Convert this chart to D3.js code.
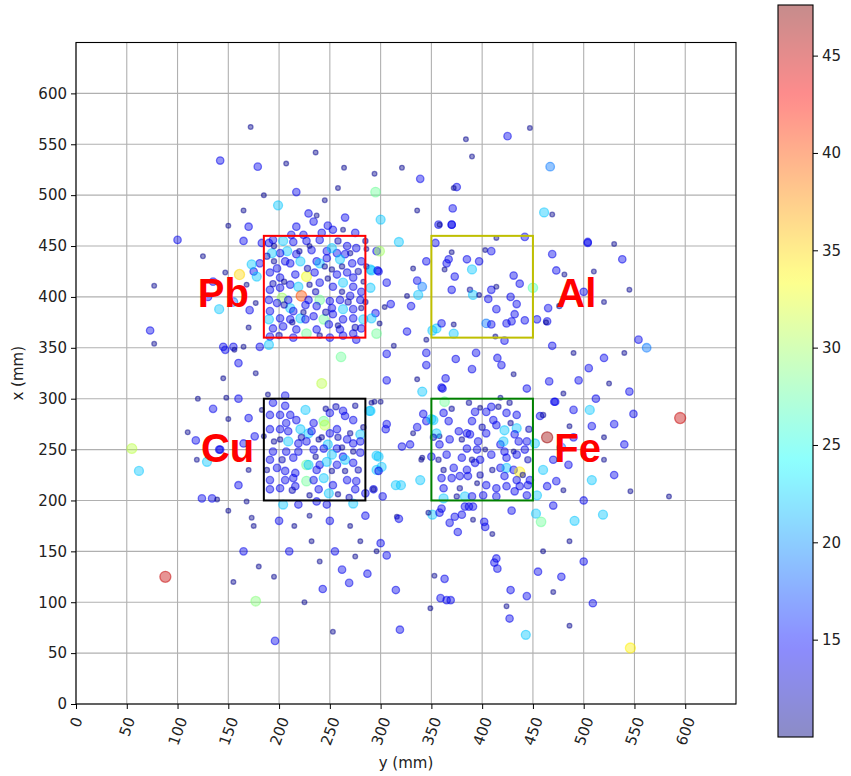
<!DOCTYPE html>
<html><head><meta charset="utf-8">
<script src="https://cdn.jsdelivr.net/npm/d3@7"></script>
<style>body{margin:0;background:#fff}svg{display:block}text{font-family:"DejaVu Sans",sans-serif}</style>
</head><body>
<script>
// ---- data: [y (mm), x (mm), value] ----
const pbRegion = [
[170,469,14],[183,453,14],[217,469,14],[212,461,14],[242,463,14],[253,466,14],[263,466,10.5],[275,463,14],[276,448,14],[286,447,10.5],[296,445,14],[248,470,14],[234,474,14],[224,461,14],[194,456,14],[204,455,22],[190,453,14],[214,454,14],[227,455,14],[240,456,14],[232,446,14],[247,445,14],[267,450,14],[270,443,11],[265,442,14],[257,443,14],[252,448,22],[217,442,14],[208,445,22],[201,443,14],[193,443,22],[198,428,14],[206,435,14],[211,433,14],[221,435,22],[237,435,14],[240,433,22],[247,438,14],[260,437,22],[272,433,14],[281,435,14],[290,427,22],[298,425,14],
[191,424,14],[201,419,14],[216,422,14],[227,420,33],[235,424,14],[252,427,11],[257,422,14],[267,424,14],[273,419,14],[283,415,10.5],[191,407,14],[201,409,14],[211,412,14],[219,410,22],[240,414,14],[253,410,14],[263,414,22],[273,410,14],[281,405,14],[290,409,22],[190,397,14],[203,399,30],[209,397,14],[222,401,40],[229,397,14],[240,397,28],[250,396,14],[260,397,14],[270,401,14],[280,397,14],[198,394,14],[211,389,22],[214,386,14],[226,392,14],[237,391,14],[252,389,14],[263,388,22],[273,388,14],[281,389,11],
[191,386,14],[190,378,22],[201,379,14],[211,378,14],[221,379,22],[226,378,14],[234,381,14],[244,378,28],[253,383,14],[263,378,14],[273,379,14],[283,378,22],[194,369,14],[204,371,14],[217,368,14],[227,364,28],[237,368,14],[249,373,14],[260,368,14],[273,364,14],[281,369,14],[191,361,14],[214,360,14],[250,360,14],[263,362,14],[276,358,14],[296,364,28],
[195,450,11],[230,450,10.5],[258,455,12],[245,430,11],[228,428,12],[205,415,11],[262,430,11],[278,425,12],[195,435,11],[236,405,12],[248,418,11],[268,395,12],[224,385,11],[205,392,12],[285,395,11],[258,372,11],[240,362,11],[200,362,12],[220,445,11],[285,455,11],[188,440,12],[230,412,11],[262,405,11],[246,385,12],[213,375,11],[275,370,12],[286,430,11],[194,413,12],
[147,424,10.5],[161,422,35],[175,425,14],[178,420,22],[181,433,14],[173,432,22],[168,412,10.5],[171,387,14],[177,394,10.5],[145,351,14],[155,351,14],[165,351,10.5],[181,351,14],[190,353,22]
];
const cuRegion = [
[148,301,10.5],[189,304,10.5],[206,303,14],[194,296,14],[206,293,14],[226,289,22],[191,284,14],[201,284,14],[211,284,14],[170,281,14],[183,289,10.5],[217,279,14],[207,276,14],[234,276,14],[250,286,14],[263,288,14],[265,283,14],[273,279,14],[290,288,22],[294,297,10.5],[244,278,28],[245,274,31],[191,270,14],[201,270,14],[209,268,14],[221,270,22],[229,266,22],[232,268,14],[250,266,14],[257,270,14],[270,266,11],[280,265,22],[185,263,10.5],[176,263,14],[165,256,14],[142,250,14],[201,260,11],[209,258,22],[219,256,14],[227,258,14],[239,260,11],[248,255,22],[257,251,14],[267,260,14],[273,256,14],[280,258,14],[298,243,22],[194,248,14],[207,248,14],[219,248,14],[234,250,14],[244,251,14],[252,245,22],[263,243,14],[273,248,11],[280,247,14],[191,240,14],[214,242,14],[227,235,28],[229,235,22],[240,235,14],[247,238,22],[257,235,14],[265,240,22],[273,237,14],[198,232,14],[206,229,14],[216,227,14],[237,230,14],[252,229,11],[265,229,11],[191,220,14],[206,220,14],[214,222,14],[227,219,28],[234,220,14],[244,222,22],[253,215,14],[267,220,14],[276,219,14],[293,211,14],[191,211,14],[201,212,14],[216,214,14],[239,211,14],[249,207,22],[258,206,11],[275,211,14],[285,207,14],[296,230,22],[119,240,10.5],[129,238,22],[141,250,14],
[124,202,14],[134,202,14],[139,201,10.5],[168,199,10.5],[204,196,22],[219,196,14],[237,199,14],[247,196,14],[273,197,22],
[258,262,12],[236,243,11],[262,252,11],[278,230,12],[195,258,11],[222,262,12],[246,290,11],[283,272,11],[213,210,12],[230,205,11],[269,203,12],[188,230,11],[256,292,12],[203,240,12],[242,262,11],[275,293,11],
[242,315,31],[261,341,28]
];
const feRegion = [
[336,319,10.5],[341,307,22],[360,311,14],[363,297,28],[418,301,10.5],[409,292,14],[416,292,11],[398,291,10.5],[393,287,14],[404,287,14],[411,279,14],[424,286,14],[434,284,14],[457,283,14],[460,284,11],[472,297,14],[490,289,14],[506,289,22],[508,273,14],[486,273,10.5],[464,262,46.5],[362,286,14],[367,278,14],[358,263,10.5],[355,266,22],[352,279,22],[345,278,14],[332,266,10.5],[329,255,14],[321,253,14],[377,268,14],[385,266,14],[388,265,14],[390,278,14],[396,258,14],[404,266,14],[414,274,14],[422,269,22],[434,271,22],[432,265,14],[436,258,14],[444,258,14],[452,256,22],[368,260,14],[358,255,14],[380,260,11],[385,251,14],[395,250,14],[403,250,10.5],[418,255,14],[421,258,22],[422,248,14],[431,248,10.5],[442,250,14],[340,240,10.5],[350,243,14],[365,245,14],[380,242,14],[390,240,11],[398,240,14],[409,245,14],[424,242,14],[434,245,14],[362,230,11],[372,232,14],[385,230,14],[393,237,14],[418,232,14],[424,232,22],[431,230,14],[437,228,34],[440,225,11],[460,230,22],[339,220,22],[360,222,14],[370,222,14],[378,224,14],[386,224,14],[422,224,14],[434,220,14],[447,220,14],[362,212,14],[395,217,10.5],[404,215,14],[414,212,14],[424,214,14],[437,214,14],[445,215,14],[362,202,22],[375,204,11],[383,204,22],[390,204,14],[401,205,14],[414,204,14],[432,209,14],[444,205,14],[454,205,22],[464,214,14],[473,219,14],[508,220,22],[391,194,14],[383,194,14],[360,192,14],
[352,262,12],[370,290,11],[400,272,12],[428,276,11],[446,270,12],[378,212,11],[410,230,11],[445,240,12],[357,240,11],[398,225,12],[427,296,11],[387,296,11]
];
const alRegion = [
[357,471,14],[370,471,14],[354,453,14],[414,458,10.5],[442,459,14],[504,453,14],[370,444,10.5],[385,437,14],[397,435,14],[367,437,14],[365,433,14],[345,435,14],[363,427,10.5],[390,427,22],[403,446,10.5],[409,445,14],[332,428,10.5],[373,420,14],[431,421,14],[437,413,14],[469,442,14],[473,426,14],[481,422,10.5],[336,416,14],[341,410,19],[326,401,10.5],[337,402,22],[370,407,14],[388,407,11],[391,402,22],[397,402,10.5],[409,407,14],[414,410,10.5],[406,398,14],[428,400,14],[434,393,14],[450,409,27],[414,388,14],[432,383,14],[465,389,14],[476,391,11],[330,391,14],[326,366,14],[355,369,22],[351,367,22],[360,374,14],[372,373,10.5],[404,374,19],[409,373,14],[424,374,14],[429,376,14],[442,377,14],[454,378,14],[464,376,14],[372,364,22],[413,361,10.5],[422,357,14],[469,352,14],[345,358,10.5]
];
const centerStrip = [
[447,566,10.5],[425,558,14],[384,555,10.5],[390,538,10.5],[321,527,10.5],[294,521,10.5],[339,516,14],[467,528,19],[375,508,14],[372,507,10.5],[295,503,28],[336,485,10.5],[371,487,14],[358,471,10.5],[370,471,14],[469,481,10.5],[300,476,22],[318,454,22],[299,445,30],[291,426,22],[297,426,14],[306,414,14],[310,393,14],[304,390,10.5],[295,384,14],[291,379,22],[299,374,10.5],[463,375,10.5],[313,352,10.5],[306,344,14],[345,345,14],[374,339,14],[394,345,14],[415,340,14],[419,333,14],[345,333,14],[306,318,14],[364,320,14],[361,310,14],[390,329,14],[431,324,10.5],[444,310,14],[466,317,14],[291,296,10.5],[300,297,10.5],[471,297,14],
[289,288,22],[306,275,14],[305,270,14],[342,285,14],[336,272,14],[350,280,22],[296,244,22],[301,233,22],[341,242,10.5],[298,229,14],[315,215,22],[320,215,22],[293,211,11],[302,204,14],
[351,186,22],[347,188,10.5],[358,188,14],[368,178,14],[373,184,14],[380,186,14],[387,194,14],[391,181,10.5],[402,179,14],[403,174,14],[376,169,14],[410,167,10.5],[429,190,14],[453,187,22],[458,179,28],[316,184,10.5],[318,182,14],[300,158,14],[296,150,10.5],[306,146,14],[287,128,14],[315,112,14],[353,126,10.5],[363,123,14],[414,143,14],[412,139,14],[415,133,14],[428,112,14],[444,106,14],[359,104,14],[365,102,14],[369,102,14],[424,96,10.5],[427,84,14],[349,94,10.5],[319,73,14],[443,68,22]
];
const outerPoints = [
[172,567,10.5],[142,534,14],[236,542,10.5],[179,528,14],[207,531,10.5],[264,527,10.5],[165,485,10.5],[217,503,14],[229,482,14],[199,490,22],[237,480,10.5],[265,478,14],[258,507,10.5],[185,500,10.5],[245,495,10.5],[461,483,22],
[504,454,14],[530,452,10.5],[538,437,14],[510,425,10.5],[500,405,14],[545,407,10.5],[520,395,10.5],[554,358,14],[562,350,19],[540,345,10.5],[520,340,14],[505,330,14],[490,345,10.5],[545,307,14],[525,315,10.5],[512,300,14],[495,318,14],[480,305,10.5],[595,281,45],[549,285,14],[530,275,14],[520,262,10.5],[540,255,14],[490,262,14],[500,245,10.5],[485,235,14],[520,240,10.5],[478,252,19],[519,186,22],[491,180,22],[546,209,10.5],[584,204,10.5],[530,225,14],[500,200,14],[480,210,10.5],[470,195,14],[486,160,10.5],[500,140,14],[478,125,14],[486,77,10.5],[509,99,14],[546,55,34],[460,150,10.5],[470,110,10.5],[455,130,14],[470,240,14],
[100,456,14],[77,411,10.5],[73,367,14],[77,354,10.5],[130,400,14],[141,388,22],[147,348,14],[156,348,10.5],[177,325,10.5],[160,335,14],[170,370,10.5],[125,440,10.5],[150,470,10.5],[165,455,14],[155,395,19],[135,415,14],[110,267,10.5],[118,259,14],[55,251,31],[62,229,22],
[88,125,45],[177,101,29],[196,62,14],[150,280,10.5],[160,300,14],[170,230,10.5],[160,215,14],[150,190,10.5],[175,175,10.5],[165,150,14],[155,120,10.5],[180,135,10.5],[145,320,10.5],[135,290,14],[120,300,10.5],
[173,183,10.5],[200,180,14],[215,175,10.5],[232,160,10.5],[210,150,14],[240,140,10.5],[255,150,14],[262,132,14],[269,119,14],[243,113,14],[253,71,10.5],[225,100,10.5],[195,125,10.5],[280,160,10.5],[270,175,10.5],[285,185,14],[230,185,10.5],[250,180,14],[275,145,10.5]
];
const boxes = [
  {name:"Pb", y0:185, y1:285, x0:360, x1:460, color:"#ff0000", ly:120, lx:390},
  {name:"Al", y0:350, y1:450, x0:360, x1:460, color:"#bfbf00", ly:473, lx:390},
  {name:"Cu", y0:185, y1:285, x0:200, x1:300, color:"#000000", ly:123, lx:238},
  {name:"Fe", y0:350, y1:450, x0:200, x1:300, color:"#008000", ly:471, lx:238}
];
const axisTicks = [0,50,100,150,200,250,300,350,400,450,500,550,600];
const cbarTicks = [15,20,25,30,35,40,45];
const cbarDomain = [10.0, 47.6];

// ---- drawing ----
const W = 851, H = 776;
const plot = {l:76, r:736, t:42.5, b:704};
const FS = 15;
const svg = d3.select("body").append("svg").attr("width",W).attr("height",H);
const x = d3.scaleLinear().domain([0,650]).range([plot.l, plot.r]);
const y = d3.scaleLinear().domain([0,650]).range([plot.b, plot.t]);

function jet(v){
  const t = Math.max(0, Math.min(1, (v - cbarDomain[0])/(cbarDomain[1]-cbarDomain[0])));
  const c = a => Math.max(0, Math.min(1, a));
  const r = c(1.5 - Math.abs(4*t-3)), g = c(1.5 - Math.abs(4*t-2)), b = c(1.5 - Math.abs(4*t-1));
  return d3.rgb(r*255, g*255, b*255).toString();
}
const rScale = d3.scaleLinear().domain([10,13,20,47]).range([2.1,3.6,4.4,5.6]).clamp(true);

// grid
const g = svg.append("g");
g.selectAll("line.gx").data(axisTicks).join("line")
  .attr("x1",d=>x(d)).attr("x2",d=>x(d)).attr("y1",plot.t).attr("y2",plot.b)
  .attr("stroke","#b0b0b0").attr("stroke-width",1.1);
g.selectAll("line.gy").data(axisTicks).join("line")
  .attr("y1",d=>y(d)).attr("y2",d=>y(d)).attr("x1",plot.l).attr("x2",plot.r)
  .attr("stroke","#b0b0b0").attr("stroke-width",1.1);

// points
const all = [].concat(pbRegion, cuRegion, feRegion, alRegion, centerStrip, outerPoints);
svg.append("g").selectAll("circle").data(all).join("circle")
  .attr("cx",d=>x(d[0])).attr("cy",d=>y(d[1])).attr("r",d=>rScale(d[2]))
  .attr("fill",d=>jet(d[2])).attr("fill-opacity",0.42)
  .attr("stroke",d=>jet(d[2])).attr("stroke-opacity",0.5).attr("stroke-width",1.3);

// boxes
svg.append("g").selectAll("rect").data(boxes).join("rect")
  .attr("x",d=>x(d.y0)).attr("y",d=>y(d.x1)).attr("width",d=>x(d.y1)-x(d.y0)).attr("height",d=>y(d.x0)-y(d.x1))
  .attr("fill","none").attr("stroke",d=>d.color).attr("stroke-width",2);
svg.append("g").selectAll("text").data(boxes).join("text")
  .attr("x",d=>x(d.ly)).attr("y",d=>y(d.lx)).text(d=>d.name)
  .attr("fill","#ff0000").attr("font-size",40).attr("font-weight","bold")
  .style("font-family","'Liberation Sans', Arial, sans-serif");

// frame
svg.append("rect").attr("x",plot.l).attr("y",plot.t).attr("width",plot.r-plot.l).attr("height",plot.b-plot.t)
  .attr("fill","none").attr("stroke","#000").attr("stroke-width",1.1);

// y axis
const ya = svg.append("g").attr("transform",`translate(${plot.l},0)`)
  .call(d3.axisLeft(y).tickValues(axisTicks).tickSize(5).tickPadding(4));
ya.select(".domain").remove();
ya.selectAll("text").attr("font-size",FS).style("font-family","DejaVu Sans").attr("fill","#222");

// x axis
const xa = svg.append("g").attr("transform",`translate(0,${plot.b})`)
  .call(d3.axisBottom(x).tickValues(axisTicks).tickSize(5));
xa.select(".domain").remove();
xa.selectAll("text").each(function(d){
  const t = d3.select(this).attr("font-size",FS).style("font-family","DejaVu Sans").attr("fill","#222");
  const w = this.getComputedTextLength();
  const a = 70*Math.PI/180;
  const bh = w*Math.sin(a) + FS*0.75*Math.cos(a);
  t.attr("text-anchor","middle").attr("dy",null).attr("y",null)
   .attr("dominant-baseline","central")
   .attr("transform",`translate(0,${12 + bh/2}) rotate(-70)`);
});

// axis labels
svg.append("text").attr("x",(plot.l+plot.r)/2).attr("y",768).attr("text-anchor","middle")
  .attr("font-size",FS).attr("fill","#222").text("y (mm)");
svg.append("text").attr("transform",`translate(23,${(plot.t+plot.b)/2}) rotate(-90)`).attr("text-anchor","middle")
  .attr("font-size",FS).attr("fill","#222").text("x (mm)");

// colorbar
const cb = {l:778, r:813, t:5, b:737};
const cy = d3.scaleLinear().domain(cbarDomain).range([cb.b, cb.t]);
const defs = svg.append("defs");
const grad = defs.append("linearGradient").attr("id","jetg").attr("x1",0).attr("y1",1).attr("x2",0).attr("y2",0);
d3.range(0,1.0001,0.02).forEach(f=>{
  grad.append("stop").attr("offset",f).attr("stop-color",jet(cbarDomain[0]+f*(cbarDomain[1]-cbarDomain[0])));
});
svg.append("rect").attr("x",cb.l).attr("y",cb.t).attr("width",cb.r-cb.l).attr("height",cb.b-cb.t)
  .attr("fill","url(#jetg)").attr("fill-opacity",0.45);
svg.append("rect").attr("x",cb.l).attr("y",cb.t).attr("width",cb.r-cb.l).attr("height",cb.b-cb.t)
  .attr("fill","none").attr("stroke","#000").attr("stroke-width",1.1);
const ca = svg.append("g").attr("transform",`translate(${cb.r},0)`)
  .call(d3.axisRight(cy).tickValues(cbarTicks).tickSize(5).tickPadding(4));
ca.select(".domain").remove();
ca.selectAll("text").attr("font-size",FS).style("font-family","DejaVu Sans").attr("fill","#222");
</script>
</body></html>
